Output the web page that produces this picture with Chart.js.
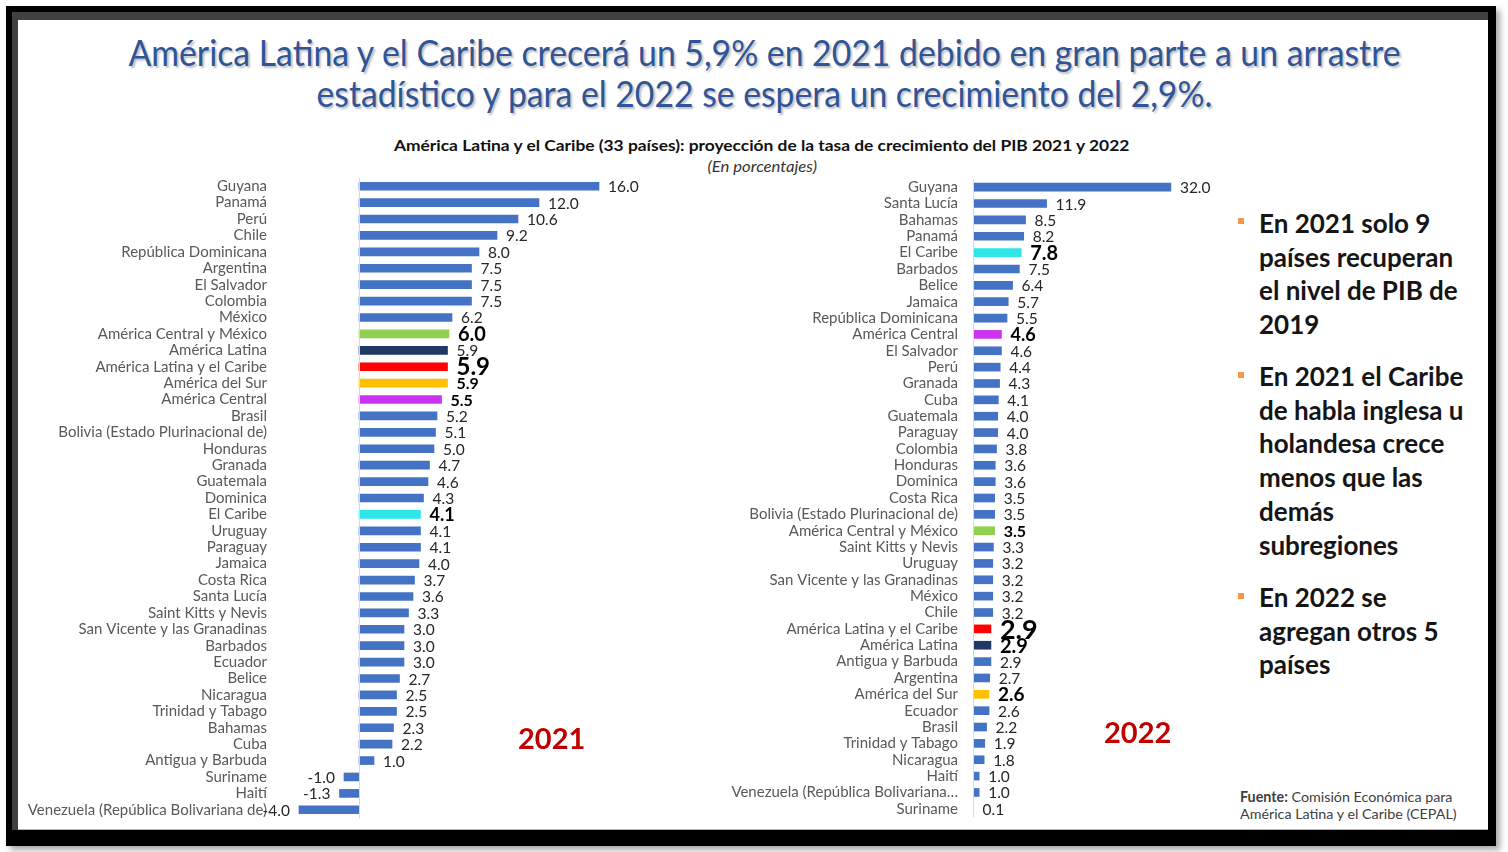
<!DOCTYPE html>
<html>
<head>
<meta charset="utf-8">
<script src="https://cdn.jsdelivr.net/npm/chart.js@4.4.0/dist/chart.umd.min.js"></script>
<style>
  html, body { margin: 0; padding: 0; background: #fff; width: 1508px; height: 852px; overflow: hidden; font-family: Lato, sans-serif; }
  .abs { position: absolute; }
  #frame { left: 6px; top: 6px; width: 1490px; height: 840px; background: #000; box-shadow: 4px 4px 6px rgba(0,0,0,0.35); }
  #band { left: 12px; top: 12px; width: 1476px; height: 818px; background: #404040; }
  #page { left: 18px; top: 20px; width: 1470px; height: 810px; background: #fff; border-bottom: 1px solid #f4a460; box-sizing: border-box; }
  .title { color: #2f5597; font-size: 36px; white-space: nowrap; text-shadow: 2px 2px 2px rgba(0,0,0,0.25); transform-origin: center center; line-height: 40px; }
  #sub { font-weight: bold; font-size: 16px; color: #111; white-space: nowrap; }
  #unit { font-style: italic; font-size: 15px; color: #333; white-space: nowrap; }
  .year { color: #c00000; font-weight: bold; font-size: 29px; }
  .bullet { font-weight: bold; font-size: 26px; color: #151515; line-height: 33.7px; white-space: nowrap; }
  .sq { width: 6px; height: 6px; background: #f79646; }
  .src { font-size: 14.3px; color: #404040; white-space: nowrap; line-height: 17px; }
</style>
</head>
<body>
<div id="frame" class="abs"></div>
<div id="band" class="abs"></div>
<div id="page" class="abs"></div>

<div id="t1" class="abs title">América Latina y el Caribe crecerá un 5,9% en 2021 debido en gran parte a un arrastre</div>
<div id="t2" class="abs title">estadístico y para el 2022 se espera un crecimiento del 2,9%.</div>
<div id="sub" class="abs">América Latina y el Caribe (33 países): proyección de la tasa de crecimiento del PIB 2021 y 2022</div>
<div id="unit" class="abs">(En porcentajes)</div>

<canvas id="chart2021" class="abs" width="682" height="662" style="left:18px;top:167px;width:682px;height:662px"></canvas>
<canvas id="chart2022" class="abs" width="530" height="686" style="left:700px;top:155px;width:530px;height:686px"></canvas>

<div class="abs year" style="left:518px;top:720px">2021</div>
<div class="abs year" style="left:1104px;top:714px">2022</div>

<div class="abs sq" style="left:1238px;top:218px"></div>
<div class="abs bullet" style="left:1259px;top:207px">En 2021 solo 9<br>países recuperan<br>el nivel de PIB de<br>2019</div>
<div class="abs sq" style="left:1238px;top:372px"></div>
<div class="abs bullet" style="left:1259px;top:360px">En 2021 el Caribe<br>de habla inglesa u<br>holandesa crece<br>menos que las<br>demás<br>subregiones</div>
<div class="abs sq" style="left:1238px;top:593px"></div>
<div class="abs bullet" style="left:1259px;top:581px">En 2022 se<br>agregan otros 5<br>países</div>

<div class="abs src" style="left:1240px;top:788px"><b>Fuente:</b> Comisión Económica para<br>América Latina y el Caribe (CEPAL)</div>

<script>
// 2021 projections
const countries2021 = ['Guyana', 'Panamá', 'Perú', 'Chile', 'República Dominicana', 'Argentina', 'El Salvador', 'Colombia', 'México',
  'América Central y México', 'América Latina', 'América Latina y el Caribe', 'América del Sur', 'América Central', 'Brasil',
  'Bolivia (Estado Plurinacional de)', 'Honduras', 'Granada', 'Guatemala', 'Dominica', 'El Caribe', 'Uruguay', 'Paraguay', 'Jamaica',
  'Costa Rica', 'Santa Lucía', 'Saint Kitts y Nevis', 'San Vicente y las Granadinas', 'Barbados', 'Ecuador', 'Belice', 'Nicaragua',
  'Trinidad y Tabago', 'Bahamas', 'Cuba', 'Antigua y Barbuda', 'Suriname', 'Haití', 'Venezuela (República Bolivariana de)'];
const growth2021 = [16.0, 12.0, 10.6, 9.2, 8.0, 7.5, 7.5, 7.5, 6.2,
  6.0, 5.9, 5.9, 5.9, 5.5, 5.2,
  5.1, 5.0, 4.7, 4.6, 4.3, 4.1, 4.1, 4.1, 4.0,
  3.7, 3.6, 3.3, 3.0, 3.0, 3.0, 2.7, 2.5,
  2.5, 2.3, 2.2, 1.0, -1.0, -1.3, -4.0];

// 2022 projections
const countries2022 = ['Guyana', 'Santa Lucía', 'Bahamas', 'Panamá', 'El Caribe', 'Barbados', 'Belice', 'Jamaica', 'República Dominicana',
  'América Central', 'El Salvador', 'Perú', 'Granada', 'Cuba', 'Guatemala', 'Paraguay', 'Colombia', 'Honduras', 'Dominica',
  'Costa Rica', 'Bolivia (Estado Plurinacional de)', 'América Central y México', 'Saint Kitts y Nevis', 'Uruguay',
  'San Vicente y las Granadinas', 'México', 'Chile', 'América Latina y el Caribe', 'América Latina', 'Antigua y Barbuda',
  'Argentina', 'América del Sur', 'Ecuador', 'Brasil', 'Trinidad y Tabago', 'Nicaragua', 'Haití',
  'Venezuela (República Bolivariana…', 'Suriname'];
const growth2022 = [32.0, 11.9, 8.5, 8.2, 7.8, 7.5, 6.4, 5.7, 5.5,
  4.6, 4.6, 4.4, 4.3, 4.1, 4.0, 4.0, 3.8, 3.6, 3.6,
  3.5, 3.5, 3.5, 3.3, 3.2,
  3.2, 3.2, 3.2, 2.9, 2.9, 2.9,
  2.7, 2.6, 2.6, 2.2, 1.9, 1.8, 1.0,
  1.0, 0.1];

const axis2021 = { min: -6, max: 18 };
const axis2022 = { min: 0, max: 38 };

// colours / emphasis for the regional aggregates
const countryBlue = '#4472c4';
const regionColors = {
  'América Central y México': '#92d050',
  'América Latina': '#1f3864',
  'América Latina y el Caribe': '#ff0000',
  'América del Sur': '#ffc000',
  'América Central': '#cc33f0',
  'El Caribe': '#2ee6ea'
};
const labelSize2021 = { 'América Central y México': 20, 'América Latina y el Caribe': 24, 'América del Sur': 16, 'América Central': 16, 'El Caribe': 18 };
const labelSize2022 = { 'El Caribe': 20, 'América Central': 18, 'América Central y México': 16, 'América Latina y el Caribe': 27, 'América Latina': 20, 'América del Sur': 19 };

const valueLabels = {
  id: 'valueLabels',
  afterDatasetsDraw(chart, args, opts) {
    const ctx = chart.ctx;
    const xs = chart.scales.x;
    const area = chart.chartArea;
    const x0 = xs.getPixelForValue(0);
    ctx.save();
    // zero line
    ctx.strokeStyle = '#d9d9d9';
    ctx.lineWidth = 1;
    ctx.beginPath();
    ctx.moveTo(Math.round(x0) + 0.5, area.top);
    ctx.lineTo(Math.round(x0) + 0.5, area.bottom);
    ctx.stroke();
    const ds = chart.data.datasets[0];
    chart.getDatasetMeta(0).data.forEach((bar, i) => {
      const v = ds.data[i];
      const name = chart.data.labels[i];
      const big = opts.sizes[name];
      ctx.font = (big ? 'bold ' + big : '15.5') + 'px Lato';
      ctx.fillStyle = big ? '#000' : '#262626';
      ctx.textBaseline = 'middle';
      if (v >= 0) {
        ctx.textAlign = 'left';
        ctx.fillText(v.toFixed(1), bar.x + 9, bar.y + 1);
      } else {
        ctx.textAlign = 'right';
        ctx.fillText(v.toFixed(1), bar.x - 9, bar.y + 1);
      }
    });
    ctx.restore();
  }
};

function makeChart(id, labels, values, range, axisWidth, tickPad, padRight, sizes) {
  return new Chart(document.getElementById(id), {
    type: 'bar',
    data: {
      labels: labels,
      datasets: [{
        data: values,
        backgroundColor: labels.map(n => regionColors[n] || countryBlue),
        barThickness: 8
      }]
    },
    options: {
      indexAxis: 'y',
      responsive: false,
      animation: false,
      layout: { padding: { top: 2, bottom: 2, left: 0, right: padRight } },
      plugins: {
        legend: { display: false },
        tooltip: { enabled: false },
        valueLabels: { sizes: sizes }
      },
      scales: {
        x: { display: false, min: range.min, max: range.max },
        y: {
          grid: { display: false, drawTicks: false },
          border: { display: false },
          ticks: { color: '#595959', font: { family: 'Lato', size: 15 }, padding: tickPad, autoSkip: false },
          afterFit(s) { s.width = axisWidth; }
        }
      }
    },
    plugins: [valueLabels]
  });
}

function place(id, cx, cy, targetW) {
  const el = document.getElementById(id);
  const w = el.offsetWidth, h = el.offsetHeight;
  el.style.left = (cx - w / 2) + 'px';
  el.style.top = (cy - h / 2) + 'px';
  if (targetW) el.style.transform = 'scaleX(' + (targetW / w) + ')';
}

document.fonts.ready.then(() => {
  place('t1', 764, 52, 1272);
  place('t2', 764, 93, 896);
  place('sub', 761, 144, 735);
  place('unit', 762, 166, 110);
  makeChart('chart2021', countries2021, growth2021, axis2021, 251, 2, 71, labelSize2021);
  makeChart('chart2022', countries2022, growth2022, axis2022, 273, 15, 22, labelSize2022);
});
</script>
</body>
</html>
